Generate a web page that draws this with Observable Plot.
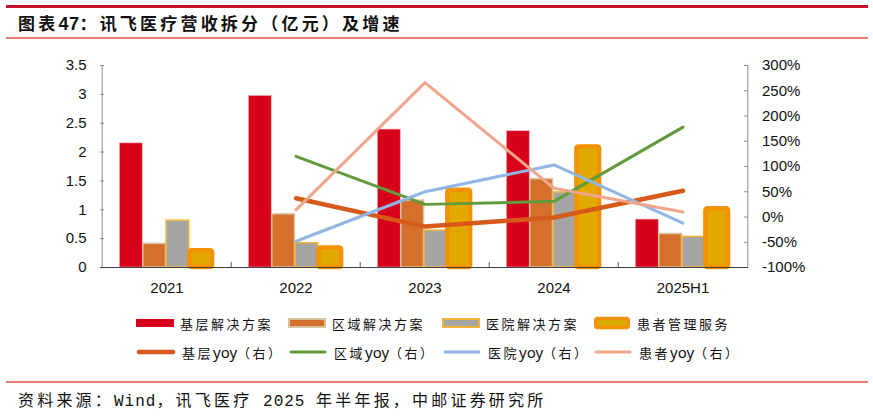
<!DOCTYPE html>
<html>
<head>
<meta charset="utf-8">
<script src="https://cdn.jsdelivr.net/npm/d3@7"></script>
<script src="https://cdn.jsdelivr.net/npm/@observablehq/plot@0.6"></script>
<style>
  html, body { margin: 0; padding: 0; background: #fff; }
  #wrap { position: relative; width: 873px; height: 417px; overflow: hidden; font-family: "Liberation Sans", Arial, sans-serif; }
  .topline { position: absolute; left: 6px; width: 862px; top: 5px; height: 3px; background: #c8102e; }
  .subline { position: absolute; left: 6px; width: 862px; height: 2px; background: #e87a7a; }
  #title { position: absolute; left: 18px; top: 11px; font-weight: bold; font-size: 17px; line-height: 24px; color: #111; white-space: nowrap; }
  #title .cjk { font-family: "Noto Sans CJK SC", sans-serif; letter-spacing: 3.2px; }
  #title .lat { font-family: "Liberation Sans", Arial, sans-serif; letter-spacing: 0.5px; font-size: 18px; }
  #source { position: absolute; left: 18px; top: 388px; font-size: 16px; line-height: 22px; color: #111; white-space: nowrap; }
  #source .cjk { font-family: "Noto Sans CJK SC", sans-serif; letter-spacing: 3.2px; }
  #source .lat { font-family: "Liberation Mono", monospace; letter-spacing: 1px; }
  #chart { position: absolute; left: 0; top: 40px; }
  .lg { position: absolute; display: flex; align-items: center; height: 20px; font-size: 13px; color: #111; white-space: nowrap; }
  .lg .cjk { font-family: "Noto Sans CJK SC", sans-serif; letter-spacing: 2.5px; }
  .lg .lat { font-family: "Noto Sans", "Liberation Sans", sans-serif; font-size: 15px; letter-spacing: 0; }
  .lg svg { margin-right: 6px; }
</style>
</head>
<body>
<div id="wrap">
  <div class="topline"></div>
  <div id="title"></div>
  <div class="subline" style="top:37px"></div>
  <div id="chart"></div>
  <div id="legend"></div>
  <div class="subline" style="top:381px"></div>
  <div id="source"></div>
</div>
<script>
// ---- data ----
const titleText = "图表47：讯飞医疗营收拆分（亿元）及增速";
const sourceText = "资料来源：Wind，讯飞医疗 2025 年半年报，中邮证券研究所";
const categories = ["2021", "2022", "2023", "2024", "2025H1"];
const basic    = [2.15, 2.97, 2.39, 2.36, 0.83];   // 基层解决方案
const regional = [0.41, 0.92, 1.16, 1.53, 0.58];   // 区域解决方案
const hospital = [0.81, 0.42, 0.64, 1.30, 0.53];   // 医院解决方案
const patient  = [0.29, 0.34, 1.34, 2.09, 1.02];   // 患者管理服务
const basicYoy    = [null, 37, -19, -1, 52];
const regionalYoy = [null, 120, 25, 31, 178];
const hospitalYoy = [null, -48, 50, 103, -12];
const patientYoy  = [null, 14, 266, 57, 10];
const leftTicks  = [0, 0.5, 1, 1.5, 2, 2.5, 3, 3.5];
const rightTicks = [-100, -50, 0, 50, 100, 150, 200, 250, 300];
const barNames  = ["基层解决方案", "区域解决方案", "医院解决方案", "患者管理服务"];
const lineNames = ["基层yoy（右）", "区域yoy（右）", "医院yoy（右）", "患者yoy（右）"];

// ---- styles ----
const barStyles = [
  {fill: "#d7001a", stroke: "#f0a0a8", strokeWidth: 0.6},
  {fill: "#d4702b", stroke: "#d9c29e", strokeWidth: 1.5},
  {fill: "#a5a5a5", stroke: "#f2b53a", strokeWidth: 1.5},
  {fill: "#e2a900", stroke: "#f39200", strokeWidth: 4.5, rx: 2}
];
const lineStyles = [
  {stroke: "#d75a1b", strokeWidth: 4.5},
  {stroke: "#629b3b", strokeWidth: 3},
  {stroke: "#91b6e3", strokeWidth: 3},
  {stroke: "#efa68a", strokeWidth: 3}
];

function wrapRuns(s) {
  return s.replace(/([\x00-\x7F]+)|([^\x00-\x7F]+)/g, (m, lat, cjk) =>
    lat ? `<span class="lat">${lat.replace(/ /g, "&nbsp;")}</span>` : `<span class="cjk">${cjk}</span>`);
}
document.getElementById("title").innerHTML = wrapRuns(titleText);
document.getElementById("source").innerHTML = wrapRuns(sourceText);

// ---- chart ----
const W = 873, H = 265, mL = 100, mR = 125, mT = 25, mB = 38;
const plotW = W - mL - mR, plotH = H - mT - mB;
const bandW = plotW / categories.length;
const barW = 23.3, barOff = 17.5;
const yMax = 3.5;
const toLeft = p => (p - rightTicks[0]) / (rightTicks[rightTicks.length - 1] - rightTicks[0]) * yMax;

const barSeries = [basic, regional, hospital, patient];
const lineSeries = [basicYoy, regionalYoy, hospitalYoy, patientYoy];

const marks = [];
barSeries.forEach((vals, k) => {
  const data = categories.map((c, i) => ({cat: c, v: vals[i]}));
  marks.push(Plot.barY(data, {
    x: "cat", y: "v",
    insetLeft: barOff + k * barW,
    insetRight: bandW - barOff - (k + 1) * barW,
    ...barStyles[k]
  }));
});
// axes lines
marks.push(Plot.ruleX([categories[0]], {x: d => d, dx: -bandW / 2, y1: 0, y2: yMax, stroke: "#8c8c8c", strokeWidth: 1}));
marks.push(Plot.ruleX([categories[categories.length - 1]], {x: d => d, dx: bandW / 2, y1: 0, y2: yMax, stroke: "#8c8c8c", strokeWidth: 1}));
marks.push(Plot.tickY(leftTicks, {y: d => d, insetRight: plotW - 4, stroke: "#8c8c8c"}));
marks.push(Plot.tickY(rightTicks, {y: d => toLeft(d), insetLeft: plotW - 4, stroke: "#8c8c8c"}));
marks.push(Plot.tickX(categories.slice(1), {x: d => d, dx: -bandW / 2, insetTop: plotH - 5, stroke: "#595959"}));
marks.push(Plot.ruleY([0], {stroke: "#404040", strokeWidth: 1.2}));
// lines
lineSeries.forEach((vals, k) => {
  const data = categories.map((c, i) => ({cat: c, v: vals[i]})).filter(d => d.v != null);
  marks.push(Plot.line(data, {x: "cat", y: d => toLeft(d.v), strokeLinecap: "round", strokeLinejoin: "round", ...lineStyles[k]}));
});
// axis labels
marks.push(Plot.axisY(leftTicks, {anchor: "left", tickSize: 0, tickPadding: 14, label: null, tickFormat: d => String(d), fill: "#111"}));
marks.push(Plot.axisY(rightTicks.map(toLeft), {anchor: "right", tickSize: 0, tickPadding: 13.5, label: null,
  tickFormat: (d, i) => rightTicks[i] + "%", fill: "#111"}));
marks.push(Plot.axisX({anchor: "bottom", tickSize: 0, tickPadding: 14.5, label: null, fill: "#111"}));

const chart = Plot.plot({
  width: W, height: H,
  marginLeft: mL, marginRight: mR, marginTop: mT, marginBottom: mB,
  x: {type: "band", domain: categories, padding: 0},
  y: {domain: [0, yMax]},
  style: {fontSize: "15px", fontFamily: "'Liberation Sans', Arial, sans-serif", color: "#111", background: "transparent", overflow: "visible"},
  marks
});
document.getElementById("chart").appendChild(chart);

// ---- legend ----
const lgX = [136, 288, 442, 593];
const legend = document.getElementById("legend");
barNames.forEach((name, k) => {
  const s = barStyles[k];
  const sw = s.strokeWidth > 2 ? 3.5 : 2;
  const item = document.createElement("div");
  item.className = "lg";
  item.style.left = lgX[k] + "px"; item.style.top = "313px";
  item.innerHTML = `<svg width="38" height="14"><rect x="${k===0?0:sw/2+ (k===3?1:0)}" y="${k===3?2.5:3}" width="${k===0?38:38-sw-(k===3?2:0)}" height="${k===3?9:8}" rx="${k===3?2:0}" fill="${s.fill}" stroke="${k===0?'none':s.stroke}" stroke-width="${sw}"/>` +
    (k === 3 ? `<line x1="6" x2="32" y1="7" y2="7" stroke="#c8b400" stroke-width="1"/>` : "") + `</svg>${wrapRuns(name)}`;
  legend.appendChild(item);
});
lineNames.forEach((name, k) => {
  const s = lineStyles[k];
  const item = document.createElement("div");
  item.className = "lg";
  item.style.left = lgX[k] + "px"; item.style.top = "342px";
  item.innerHTML = `<svg width="40" height="10"><line x1="3" x2="37" y1="5" y2="5" stroke="${s.stroke}" stroke-width="${s.strokeWidth}" stroke-linecap="round"/></svg>${wrapRuns(name)}`;
  legend.appendChild(item);
});
</script>
</body>
</html>
